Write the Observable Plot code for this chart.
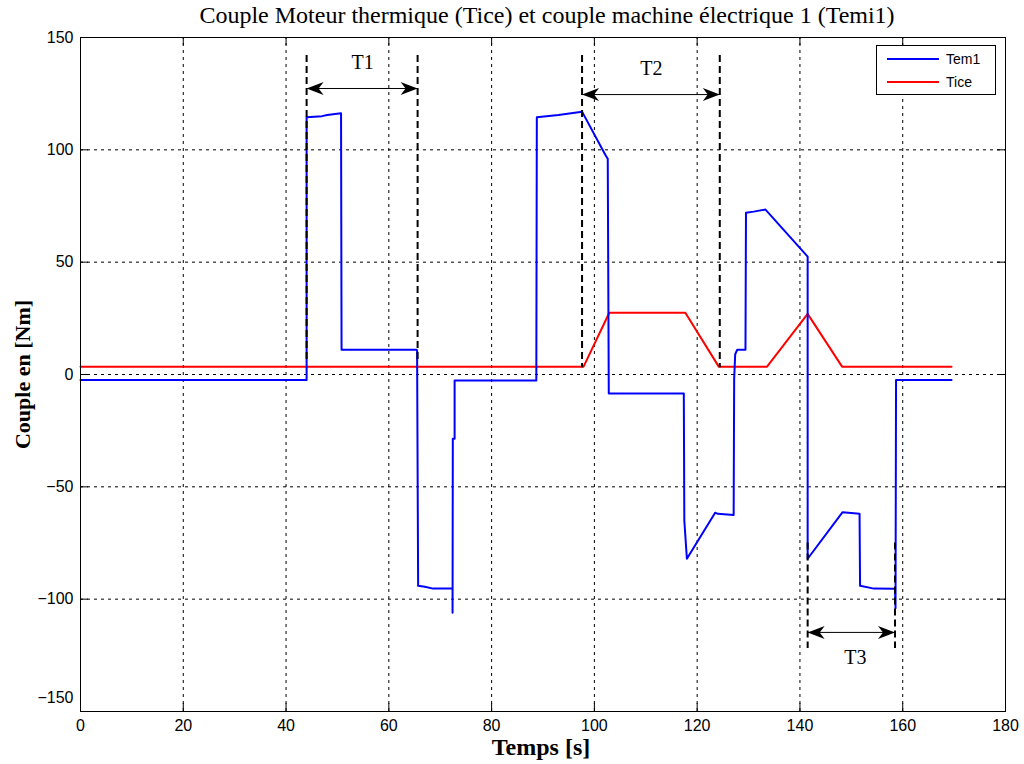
<!DOCTYPE html>
<html>
<head>
<meta charset="utf-8">
<script src="https://cdn.jsdelivr.net/npm/d3@7"></script>
<script src="https://cdn.jsdelivr.net/npm/@observablehq/plot@0.6"></script>
<style>
  body { margin: 0; background: #fff; }
  #wrap { position: relative; width: 1024px; height: 764px; }
  #legend { position: absolute; left: 876px; top: 45px; width: 118px; height: 48px;
    border: 1px solid #000; background: #fff; font-family: "Liberation Sans", Arial, sans-serif; font-size: 14px; }
  #legend .row { position: absolute; left: 10px; height: 16px; display: flex; align-items: center; }
  #legend .sw { width: 52px; height: 0; border-top: 2px solid; margin-right: 7px; }
</style>
</head>
<body>
<div id="wrap"></div>
<script>
// ---- data ----
const tem1Time = [0,44,44,47,48,50.7,50.8,65.4,65.5,65.7,67,68.6,72.4,72.4,72.45,72.8,72.8,88.7,88.8,93,97.6,102.2,102.6,102.8,117.4,117.5,118,123.5,124,127.1,127.2,127.4,127.8,129.4,129.5,131,133.3,141.5,141.5,148.3,151.6,151.7,154.4,158.5,158.6,158.7,169.5];
const tem1Val  = [-2.5,-2.5,114.5,115,115.5,116.3,11,11,10.5,-94,-94.5,-95.3,-95.3,-106,-28.6,-28.6,-2.7,-2.7,114.5,115.5,117,97.5,96,-8.5,-8.5,-65,-82,-61.5,-62,-62.5,-2,9,11,11,72,72.5,73.4,52.5,-82,-61.3,-62,-94,-95.3,-95.4,-104,-2.5,-2.5];
const ticeTime = [0,97.9,102.9,117.7,124.2,133.6,141.5,148.2,169.5];
const ticeVal  = [3.5,3.5,27.5,27.5,3.5,3.5,27,3.5,3.5];

const xTicks = [0,20,40,60,80,100,120,140,160,180];
const yTicks = [-150,-100,-50,0,50,100,150];

// annotation markers (time spans T1, T2, T3)
const spanNames = ["T1","T2","T3"];
const spanStart = [44, 97.6, 141.5];
const spanEnd   = [65.6, 124.4, 158.5];
const spanLineTop = [142, 142, -75];
const spanLineBottom = [5, 3, -122];
const spanArrowY = [127.3, 124.6, -114.8];
const spanLabelX = [54.9, 111.1, 150.8];
const spanLabelY = [138.9, 136, -126];

const title = "Couple Moteur thermique (Tice) et couple machine électrique 1 (Temi1)";
const xLabel = "Temps [s]";
const yLabel = "Couple en [Nm]";
const seriesNames = ["Tem1","Tice"];
const seriesColors = ["#0000ff","#ff0000"];

// ---- build tables ----
const tem1 = tem1Time.map((t,i)=>({t, v: tem1Val[i]}));
const tice = ticeTime.map((t,i)=>({t, v: ticeVal[i]}));
const spans = spanNames.map((n,i)=>({n, a: spanStart[i], b: spanEnd[i], top: spanLineTop[i], bot: spanLineBottom[i], ay: spanArrowY[i], lx: spanLabelX[i], ly: spanLabelY[i]}));
const vLines = spans.flatMap(s => [{x: s.a, y1: s.top, y2: s.bot}, {x: s.b, y1: s.top, y2: s.bot}]);
const heads = spans.flatMap(s => [{x: s.a, y: s.ay, r: -90}, {x: s.b, y: s.ay, r: 90}]);

// barbed arrowhead symbol, apex at origin, pointing up
const arrowHead = {
  draw(ctx) {
    ctx.moveTo(0, 0);
    ctx.lineTo(6.5, 17);
    ctx.lineTo(0, 12);
    ctx.lineTo(-6.5, 17);
    ctx.closePath();
  }
};

const tickFont = '"Liberation Sans Narrow", "Arial Narrow", "Liberation Sans", sans-serif';
const serif = '"Liberation Serif", "Times New Roman", serif';
const tx = 1.56, ty = 3.56;

const chart = Plot.plot({
  width: 1024, height: 764,
  marginLeft: 80, marginRight: 19, marginTop: 37, marginBottom: 53,
  x: {domain: [0,180]},
  y: {domain: [-150,150]},
  style: {background: "#fff", color: "#000", fontFamily: tickFont},
  marks: [
    // grid
    Plot.ruleX(xTicks.slice(1,-1), {y1: -150, y2: 150, stroke: "#000", strokeWidth: 1, strokeDasharray: "3,4"}),
    Plot.ruleY(yTicks.slice(1,-1), {x1: 0, x2: 180, stroke: "#000", strokeWidth: 1, strokeDasharray: "3,4"}),
    // inward ticks
    Plot.ruleX(xTicks, {y1: -150, y2: -150 + ty, stroke: "#000"}),
    Plot.ruleX(xTicks, {y1: 150, y2: 150 - ty, stroke: "#000"}),
    Plot.ruleY(yTicks, {x1: 0, x2: tx, stroke: "#000"}),
    Plot.ruleY(yTicks, {x1: 180, x2: 180 - tx, stroke: "#000"}),
    Plot.axisX(xTicks, {tickSize: 0, tickPadding: 8, fontSize: 16, label: null, fontFamily: tickFont}),
    Plot.axisY(yTicks.slice(1), {tickSize: 0, tickPadding: 7, fontSize: 16, label: null, fontFamily: tickFont}),
    Plot.axisY(yTicks.slice(0,1), {tickSize: 0, tickPadding: 7, fontSize: 16, label: null, fontFamily: tickFont, dy: -14}),
    // series
    Plot.line(tice, {x: "t", y: "v", stroke: seriesColors[1], strokeWidth: 2, curve: "linear"}),
    Plot.line(tem1, {x: "t", y: "v", stroke: seriesColors[0], strokeWidth: 2, curve: "linear"}),
    // annotations
    Plot.ruleX(vLines, {x: "x", y1: "y1", y2: "y2", stroke: "#000", strokeWidth: 2, strokeDasharray: "7,4"}),
    Plot.ruleY(spans, {y: "ay", x1: "a", x2: "b", stroke: "#000", strokeWidth: 1}),
    Plot.dot(heads, {x: "x", y: "y", symbol: arrowHead, rotate: "r", fill: "#000", stroke: null}),
    Plot.text(spans, {x: "lx", y: "ly", text: "n", fontFamily: serif, fontSize: 20}),
    Plot.frame({stroke: "#000"}),
    // titles
    Plot.text([title], {frameAnchor: "top", dy: -22, dx: 4, textAnchor: "middle", lineAnchor: "middle", fontFamily: serif, fontSize: 24}),
    Plot.text([xLabel], {frameAnchor: "bottom", dy: 36, dx: -2, textAnchor: "middle", lineAnchor: "middle", fontFamily: serif, fontSize: 24, fontWeight: "bold"}),
    Plot.text([yLabel], {frameAnchor: "left", dx: -58, rotate: -90, textAnchor: "middle", lineAnchor: "middle", fontFamily: serif, fontSize: 22, fontWeight: "bold"})
  ]
});

const wrap = document.getElementById("wrap");
wrap.appendChild(chart);
const leg = document.createElement("div");
leg.id = "legend";
seriesNames.forEach((n,i) => {
  const row = document.createElement("div");
  row.className = "row";
  row.style.top = (5 + i*23) + "px";
  const sw = document.createElement("span");
  sw.className = "sw";
  sw.style.borderTopColor = seriesColors[i];
  row.appendChild(sw);
  row.appendChild(document.createTextNode(n));
  leg.appendChild(row);
});
wrap.appendChild(leg);
</script>
</body>
</html>
